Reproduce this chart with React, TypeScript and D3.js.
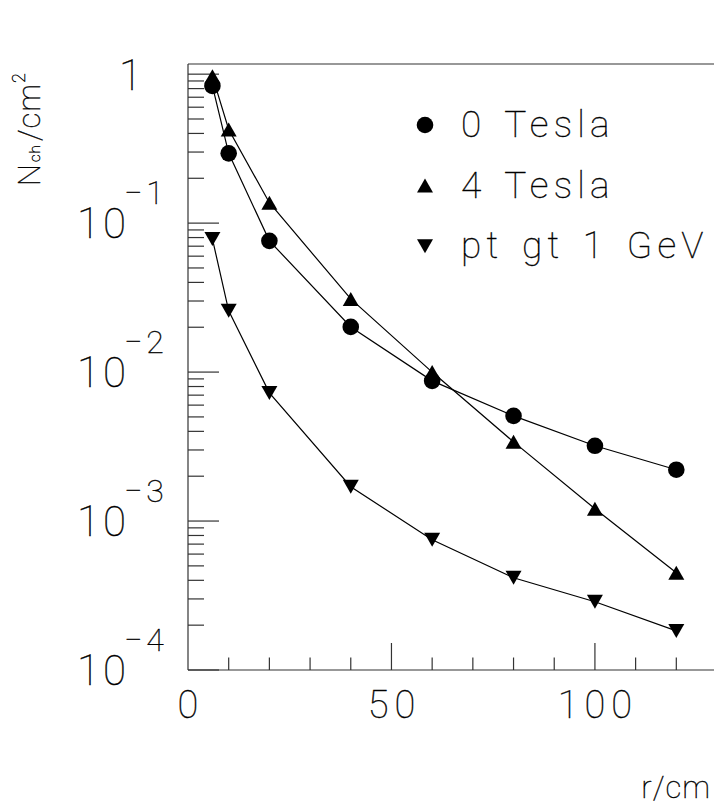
import React from "react";
import * as d3 from "d3";

// Charged-track density vs radius
const radii = [6, 10, 20, 40, 60, 80, 100, 120];
const tesla0 = [0.833, 0.294, 0.076, 0.0201, 0.00873, 0.00508, 0.0032, 0.00221];
const tesla4 = [0.97, 0.425, 0.137, 0.031, 0.01, 0.0034, 0.00121, 0.000449];
const ptGt1 = [0.0783, 0.0258, 0.00725, 0.0017, 0.000748, 0.000416, 0.000287, 0.000183];

const seriesNames = ["0 Tesla", "4 Tesla", "pt gt 1 GeV"];
const xTickLabels = [0, 50, 100];
const decades = [-4, -3, -2, -1, 0];

const W = 714;
const H = 806;
const FONT = "Roboto, 'DejaVu Sans', sans-serif";
const INK = "#000";
const AXIS = "#333";

// thin strokes for the light typeface, kept grayscale
const textStyle = {
  fontFamily: FONT,
  fontWeight: 100,
  fill: INK,
  stroke: INK,
  strokeWidth: 0.35,
  opacity: 0.999,
} as const;

type Shape = "circle" | "up" | "down";

function markerPath(shape: Shape, cx: number, cy: number): string {
  const hw = 8;
  const hh = 7;
  if (shape === "up") {
    return `M${cx},${cy - hh}L${cx + hw},${cy + hh}L${cx - hw},${cy + hh}Z`;
  }
  return `M${cx - hw},${cy - hh}L${cx + hw},${cy - hh}L${cx},${cy + hh}Z`;
}

function Marker({ shape, cx, cy }: { shape: Shape; cx: number; cy: number }) {
  if (shape === "circle") return <circle cx={cx} cy={cy} r={8.3} fill={INK} />;
  return <path d={markerPath(shape, cx, cy)} fill={INK} />;
}

export default function App() {
  const x = d3.scaleLinear().domain([0, 130]).range([188, 717]);
  const y = d3.scaleLog().domain([1e-4, 1.17]).range([670, 64]);

  const series: { values: number[]; shape: Shape }[] = [
    { values: tesla0, shape: "circle" },
    { values: tesla4, shape: "up" },
    { values: ptGt1, shape: "down" },
  ];

  const line = d3
    .line<number>()
    .x((_, i) => x(radii[i]))
    .y((v) => y(v));

  // x ticks every 10, major every 50
  const xTicks = d3.range(10, 131, 10);
  // y ticks: minor 2..9 per decade, major at powers of ten
  const yMinor: number[] = [];
  for (let d = -4; d < 0; d++) {
    for (let m = 2; m <= 9; m++) yMinor.push(m * Math.pow(10, d));
  }
  const yMajor = decades.map((d) => Math.pow(10, d));

  const x0 = x(0);
  const yBottom = y(1e-4);
  const yTop = 64;
  const xLabelSpacing = 6;

  return (
    <svg width={W} height={H} style={{ position: "absolute", left: 0, top: 0, background: "#fff" }}>
      <rect x={0} y={0} width={W} height={H} fill="#fff" />
      {/* frame */}
      <g stroke={AXIS} strokeWidth={1.2} fill="none">
        <line x1={x0} y1={yTop} x2={x0} y2={yBottom} />
        <line x1={x0} y1={yTop} x2={W + 10} y2={yTop} />
        <line x1={x0} y1={yBottom} x2={W + 10} y2={yBottom} />
      </g>
      {/* x ticks */}
      <g stroke={AXIS} strokeWidth={1.2}>
        {xTicks.map((t) => (
          <line key={t} x1={x(t)} x2={x(t)} y1={yBottom} y2={yBottom - (t % 50 === 0 ? 27 : 12.5)} />
        ))}
      </g>
      {/* y ticks */}
      <g stroke={AXIS} strokeWidth={1.2}>
        {yMinor.map((t, i) => (
          <line key={"m" + i} x1={x0} x2={x0 + 16} y1={y(t)} y2={y(t)} />
        ))}
        {yMajor.map((t, i) => (
          <line key={"M" + i} x1={x0} x2={x0 + 31} y1={y(t)} y2={y(t)} />
        ))}
      </g>
      {/* x tick labels */}
      <g style={textStyle} fontSize={38}>
        {xTickLabels.map((t) => (
          <text
            key={t}
            x={x(t) + xLabelSpacing / 2}
            y={718}
            textAnchor="middle"
            letterSpacing={xLabelSpacing}
          >
            {t}
          </text>
        ))}
      </g>
      {/* y tick labels */}
      <g style={textStyle}>
        {decades.map((d) => {
          const ty = y(Math.pow(10, d));
          if (d === 0) {
            return (
              <text key={d} x={119} y={ty + 16} fontSize={42}>
                1
              </text>
            );
          }
          return (
            <g key={d}>
              <text x={77} y={ty + 15} fontSize={42} letterSpacing={3}>
                10
              </text>
              <text x={124} y={ty - 19} fontSize={32} letterSpacing={4}>
                {"\u2212" + Math.abs(d)}
              </text>
            </g>
          );
        })}
      </g>
      {/* data */}
      {series.map((s, si) => (
        <g key={si}>
          <path d={line(s.values) || ""} fill="none" stroke={INK} strokeWidth={1.2} />
          {s.values.map((v, i) => (
            <Marker key={i} shape={s.shape} cx={x(radii[i])} cy={y(v)} />
          ))}
        </g>
      ))}
      {/* legend */}
      {seriesNames.map((name, i) => {
        const by = 137 + i * 60.6;
        return (
          <g key={name}>
            <Marker shape={series[i].shape} cx={425} cy={by - 12} />
            <text
              x={461}
              y={by}
              style={textStyle}
              fontSize={37}
              letterSpacing={5.2}
              wordSpacing={4.5}
            >
              {name}
            </text>
          </g>
        );
      })}
      {/* axis titles */}
      <text x={711} y={798} textAnchor="end" style={textStyle} fontSize={31} letterSpacing={1}>
        r/cm
      </text>
      <text transform="translate(40,186) rotate(-90)" style={textStyle} fontSize={31} letterSpacing={1}>
        <tspan>N</tspan>
        <tspan fontSize={15} dx={1}>ch</tspan>
        <tspan dx={3}>/cm</tspan>
        <tspan fontSize={18} dy={-15}>2</tspan>
      </text>
    </svg>
  );
}
